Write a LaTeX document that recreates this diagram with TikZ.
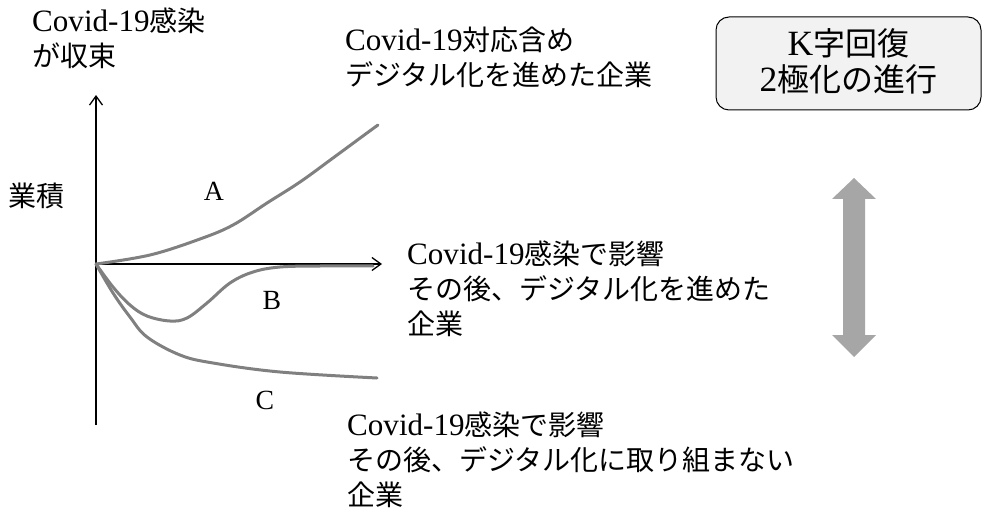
\documentclass[tikz,border=0pt]{standalone}
\usepackage{fontspec}
\setmainfont{Liberation Serif}[Scale=1.11]
\newfontfamily\jp{Noto Sans CJK JP}
\usetikzlibrary{arrows.meta}
\definecolor{curvegray}{HTML}{808080}
\definecolor{arrowgray}{HTML}{A6A6A6}
\definecolor{boxfill}{HTML}{F2F2F2}
\tikzset{
  txt/.style={anchor=base west, inner sep=0pt, align=left, font=\fontsize{28}{35}\selectfont},
  letter/.style={inner sep=0pt, font=\fontsize{25}{30}\selectfont},
  axis/.style={line width=1.3pt, -{Straight Barb[length=9pt,width=13pt,line width=1.3pt]}},
  curve/.style={curvegray, line width=3pt, line cap=round},
  kbox/.style={draw=black, line width=1pt, fill=boxfill, rounded corners=13pt, align=center,
    font=\fontsize{32}{36}\selectfont, inner sep=0pt, minimum width=265pt, minimum height=93pt},
}
\begin{document}
\begin{tikzpicture}[x=1pt,y=-1pt]
\useasboundingbox (0,0) rectangle (982,513);
% axes
\coordinate (O) at (96,264);
\coordinate (Ytop) at (96,95);
\coordinate (Ybot) at (96,425);
\coordinate (Xend) at (382,264);
\draw[axis] (Ybot) -- (Ytop);
\draw[axis] (O) -- (Xend);
% curves
\draw[curve] plot[smooth, tension=0.6] coordinates {(96,264) (150,255) (200,239) (233,225) (267,203) (300,182) (333,158) (367,133) (378,125)};
\draw[curve] plot[smooth, tension=0.6] coordinates {(96,264) (113,287) (130,305) (147,316) (170,321) (187,318) (207,303) (230,283) (253,272) (280,267) (320,266) (373,266)};
\draw[curve] plot[smooth, tension=0.6] coordinates {(96,264) (113,293) (130,317) (147,337) (180,355) (213,363) (280,372) (377,378)};
% letters
\node[letter] (A) at (214,191) {A};
\node[letter] (B) at (272,300) {B};
\node[letter] (C) at (265,400) {C};
% texts (anchored at the baseline of the last line)
\node[txt] (t1) at (32,67) {Covid-19{\jp 感染}\\{\jp が収束}};
\node[txt] (t2) at (8,207) {\jp 業積};
\node[txt] (t3) at (345,86) {Covid-19{\jp 対応含め}\\{\jp デジタル化を進めた企業}};
\node[txt] (t4) at (407,334) {Covid-19{\jp 感染で影響}\\{\jp その後、デジタル化を進めた}\\{\jp 企業}};
\node[txt] (t5) at (347,505) {Covid-19{\jp 感染で影響}\\{\jp その後、デジタル化に取り組まない}\\{\jp 企業}};
% box
\node[kbox] (kb) at (848.5,63.5) {};
\node[align=center, inner sep=0pt, font=\fontsize{32}{36}\selectfont] (kt) at (848.5,61) {K{\jp 字回復}\\2{\jp 極化の進行}};
% double arrow
\fill[arrowgray] (854,178) -- (876,199) -- (865,199) -- (865,335) -- (876,335) -- (854,357)
  -- (832,335) -- (843,335) -- (843,199) -- (832,199) -- cycle;
\end{tikzpicture}
\end{document}
